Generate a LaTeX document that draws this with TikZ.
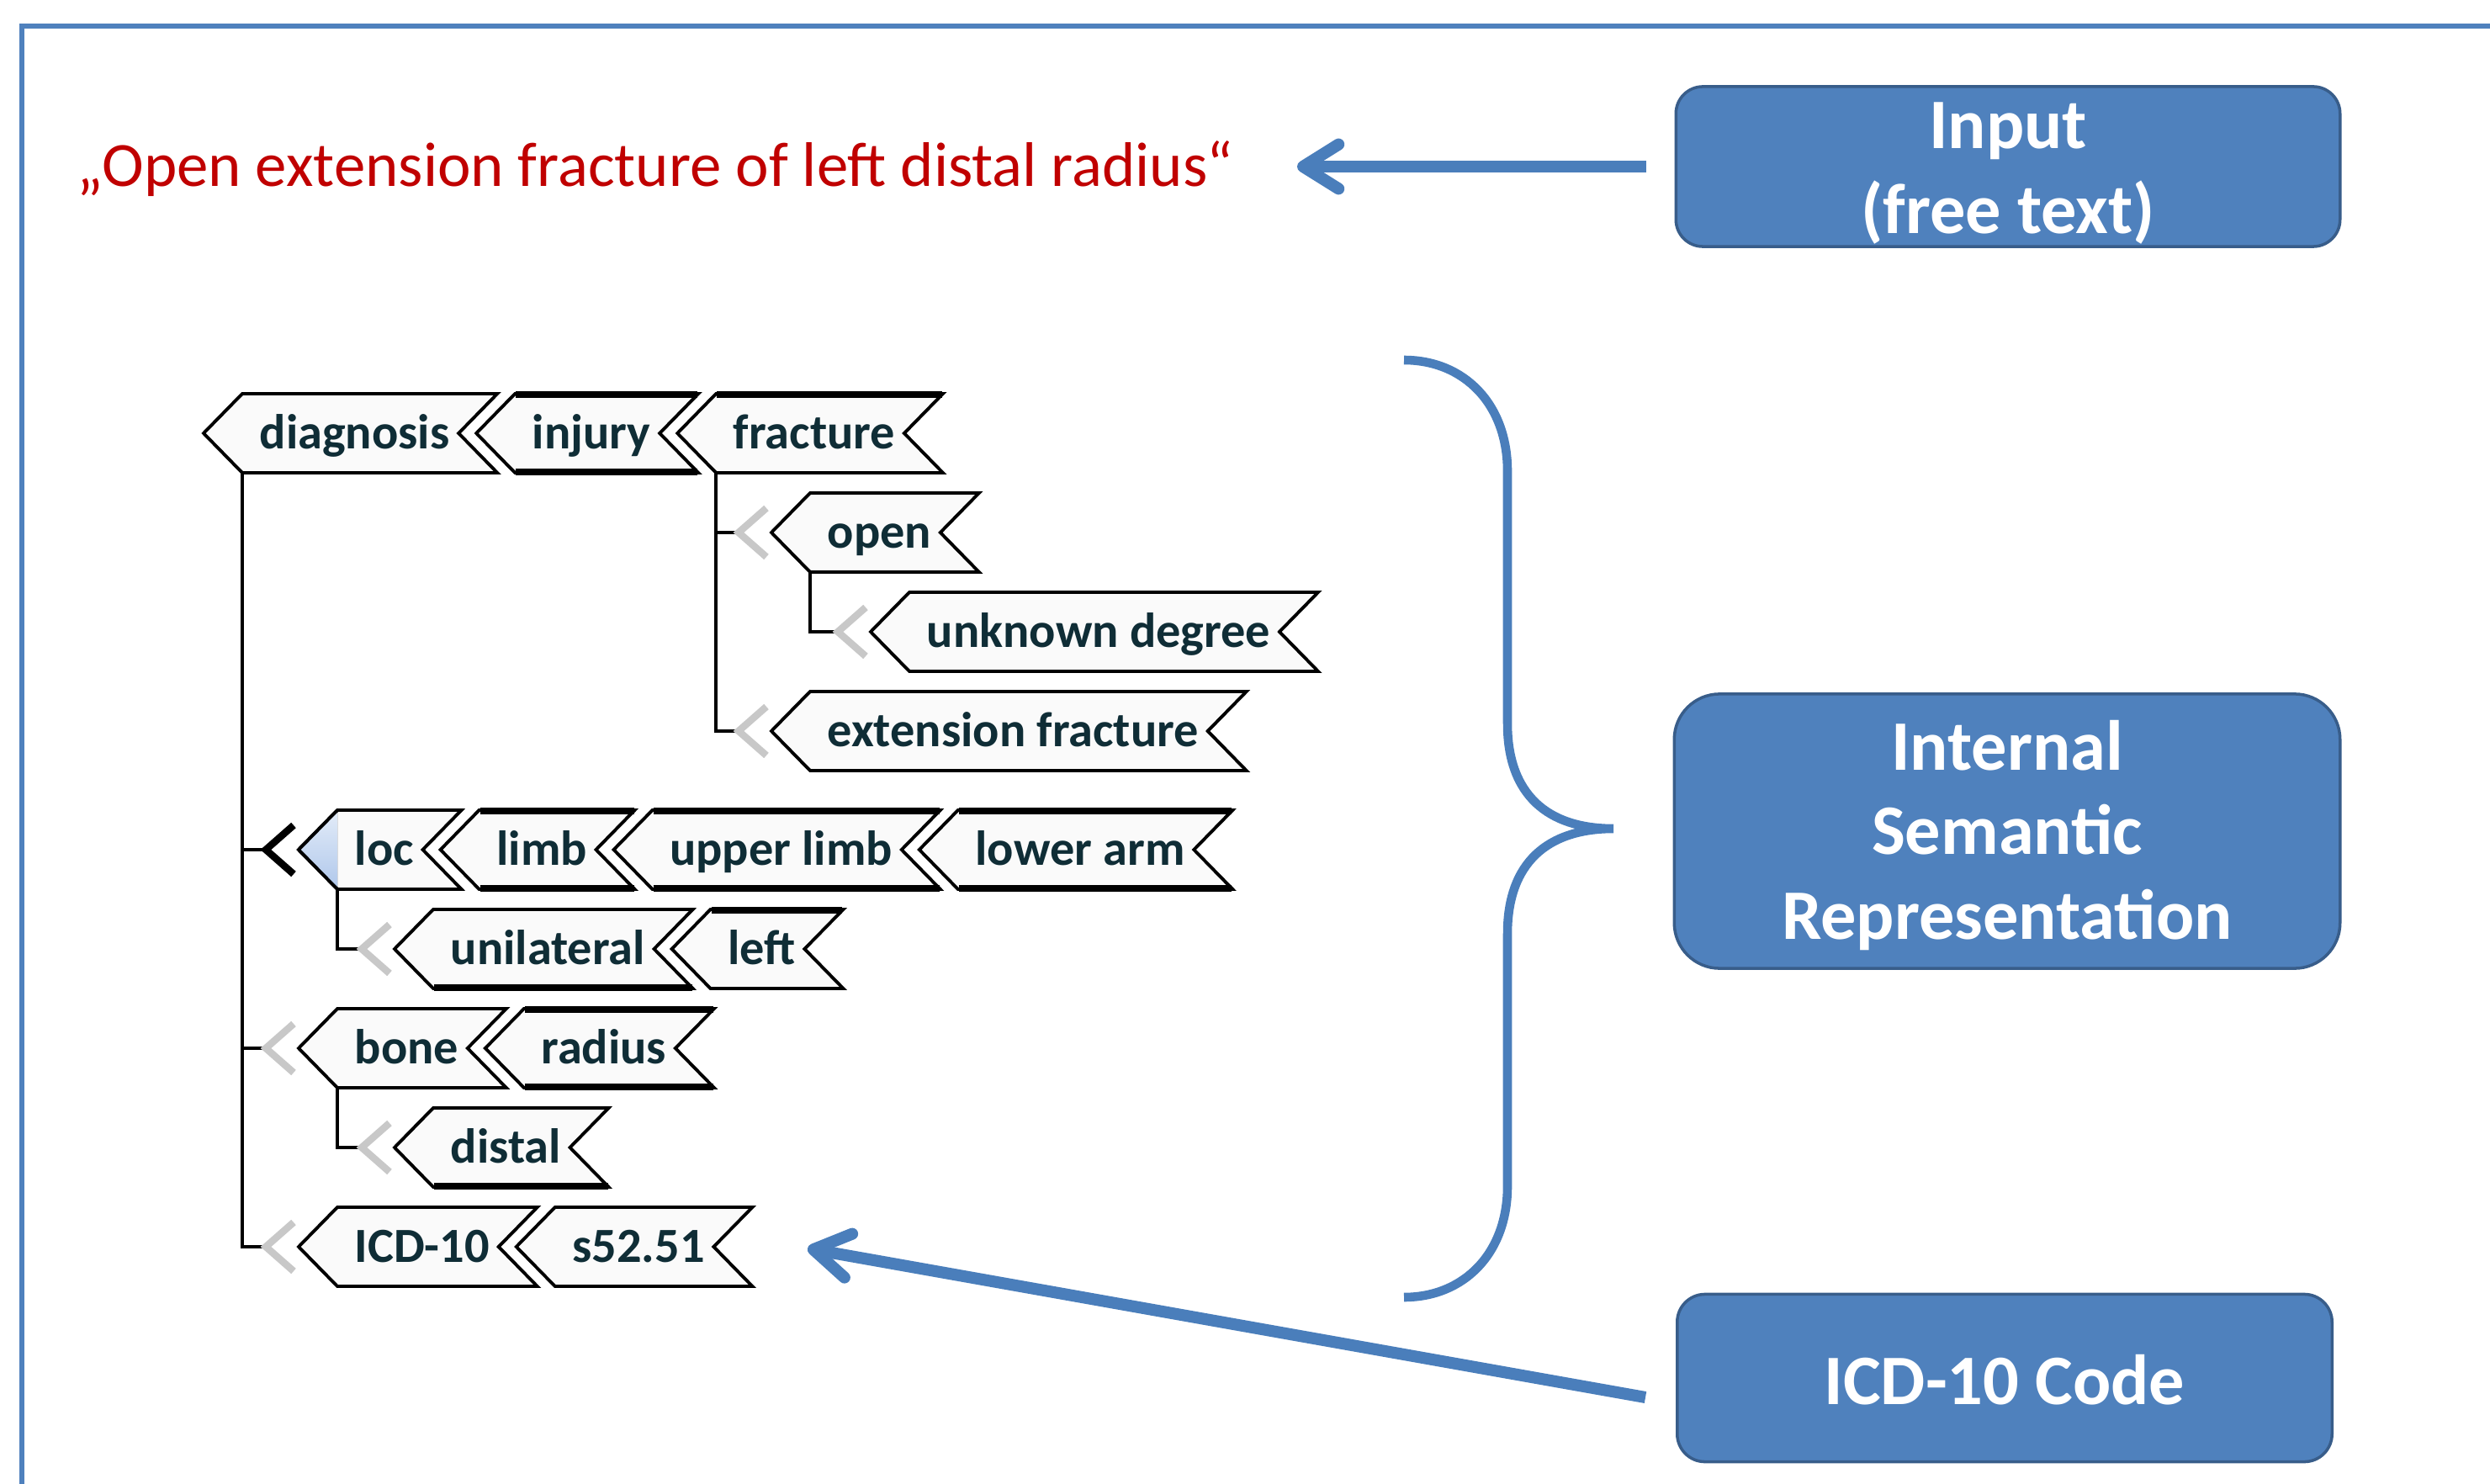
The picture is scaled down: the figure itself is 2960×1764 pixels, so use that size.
\documentclass[tikz,border=0pt]{standalone}
\usepackage{fontspec}
\setmainfont{Carlito}
\usetikzlibrary{positioning,calc,backgrounds,arrows.meta}

\definecolor{boxblue}{HTML}{4F81BD}
\definecolor{boxedge}{HTML}{385D8A}
\definecolor{linkblue}{HTML}{4A7EBB}
\definecolor{quotered}{HTML}{C00000}
\definecolor{tagink}{HTML}{0F2D36}
\definecolor{chevgray}{HTML}{C8C8C8}
\definecolor{loctop}{HTML}{E3ECF8}
\definecolor{locbot}{HTML}{AFC7EB}

\tikzset{
  tagtext/.style={font=\fontsize{16.6pt}{20pt}\selectfont\bfseries, text=tagink,
    inner sep=0pt, text height=10.24pt, text depth=0pt, anchor=west},
  tagline/.style={draw=black, line width=1.1pt, fill=black!2},
  heavyline/.style={line width=2.2pt},
  conn/.style={line width=1.2pt},
  chev/.style={draw=chevgray, line width=2.4pt},
  bluebox/.style={draw=boxedge, line width=1pt, fill=boxblue},
  boxtext/.style={text=white, align=center, inner sep=0pt,
    font=\fontsize{24pt}{28.5pt}\selectfont\bfseries},
  bluearrow/.style={draw=linkblue, line width=4pt, -{Straight Barb[length=12pt,width=15pt,round]}},
  brace/.style={draw=linkblue, line width=3pt},
}

% chevron outline around a tag text node
\newcommand{\tagbox}[1]{%
  \coordinate (#1-p) at ($(#1.west)+(-66,0)$);
  \coordinate (#1-c) at ($(#1.west)+(-20,47)$);
  \filldraw[tagline] (#1-p) -- ($(#1.west)+(-20,-47)$) -- ($(#1.east)+(56,-47)$)
    -- ($(#1.east)+(10,0)$) -- ($(#1.east)+(56,47)$) -- (#1-c) -- cycle;
}
\newcommand{\heavytop}[1]{\draw[heavyline] ($(#1.west)+(-19,-46)$) -- ($(#1.east)+(55,-46)$);}
\newcommand{\heavybot}[1]{\draw[heavyline] ($(#1.west)+(-19,46)$) -- ($(#1.east)+(55,46)$);}
% small chevron in front of a child tag
\newcommand{\chevmark}[2][chev]{%
  \draw[#1] ($(#2-p)+(-6,-29)$) -- ($(#2-p)+(-39,0)$) -- ($(#2-p)+(-6,29)$);
}

\begin{document}
\begin{tikzpicture}[x=0.01cm, y=-0.01cm]
  \useasboundingbox (0,0) rectangle (2960,1764);
  \draw[draw=boxblue, line width=1.6pt] (2975,31) -- (26,31) -- (26,1780);

  % free text input
  \node[anchor=base west, inner sep=0pt, text=quotered,
    font=\fontsize{21.3pt}{25pt}\selectfont] (quote) at (91,222)
    {„Open extension fracture of left distal radius“};

  % tree of tags
  \node[tagtext] (diag) at (308,515) {diagnosis};
  \node[tagtext, right=9.7mm of diag] (injury) {injury};
  \node[tagtext, right=9.7mm of injury] (fracture) {fracture};
  \node[tagtext] (open) at (983,633) {open};
  \node[tagtext] (unknown) at (1101,751) {unknown degree};
  \node[tagtext] (extension) at (983,869) {extension fracture};
  \node[tagtext] (loc) at (421,1010) {loc};
  \node[tagtext, right=9.7mm of loc] (limb) {limb};
  \node[tagtext, right=9.7mm of limb] (upper) {upper limb};
  \node[tagtext, right=9.7mm of upper] (lower) {lower arm};
  \node[tagtext] (unilateral) at (535,1128) {unilateral};
  \node[tagtext, right=9.7mm of unilateral] (left) {left};
  \node[tagtext] (bone) at (421,1246) {bone};
  \node[tagtext, right=9.7mm of bone] (radius) {radius};
  \node[tagtext] (distal) at (535,1364) {distal};
  \node[tagtext] (icd10) at (421,1482) {ICD-10};
  \node[tagtext, right=9.7mm of icd10] (s5251) {s52.51};

  \begin{scope}[on background layer]
    \foreach \t in {diag,injury,fracture,open,unknown,extension,loc,limb,upper,lower,
        unilateral,left,bone,radius,distal,icd10,s5251}
      {\tagbox{\t}}
    \fill[top color=loctop, bottom color=locbot] (loc-p) -- ($(loc.west)+(-20,-47)$) -- (loc-c) -- cycle;
    \draw[line width=1.1pt] ($(loc.west)+(-20,-47)$) -- (loc-p) -- (loc-c);
    \foreach \t in {injury,limb,upper,lower,radius} {\heavytop{\t}\heavybot{\t}}
    \foreach \t in {fracture,left} {\heavytop{\t}}
    \foreach \t in {unilateral,distal} {\heavybot{\t}}
  \end{scope}

  % connectors
  \foreach \p/\c in {diag/loc,diag/bone,diag/icd10,fracture/open,fracture/extension,
      open/unknown,loc/unilateral,bone/distal}
    {\draw[conn] (\p-c) |- ($(\c-p)+(-39,0)$);}
  \foreach \c in {open,unknown,extension,unilateral,bone,distal,icd10}
    {\chevmark{\c}}
  \chevmark[chev, draw=black]{loc}

  % boxes on the right
  \node[bluebox, minimum width=7.89cm, minimum height=1.9cm, rounded corners=0.32cm,
    label={[boxtext, yshift=-0.08cm]center:{Input\\(free text)}}] (input) at (2387,198) {};
  \node[bluebox, minimum width=7.91cm, minimum height=3.26cm, rounded corners=0.54cm,
    label={[boxtext, yshift=-0.05cm]center:{Internal\\Semantic\\Representation}}] (isr) at (2386,988) {};
  \node[bluebox, minimum width=7.78cm, minimum height=1.99cm, rounded corners=0.33cm,
    label={[boxtext, yshift=-0.02cm]center:{ICD-10 Code}}] (icd) at (2383,1638) {};

  % arrows and brace
  \coordinate (quote-end) at (1542,198);
  \coordinate (code-end) at (960,1484);
  \draw[bluearrow] ([xshift=-0.34cm]input.west) -- (quote-end);
  \draw[bluearrow] ([xshift=-0.36cm,yshift=-0.23cm]icd.west) -- (code-end);
  \draw[brace] (1669,428) .. controls (1740,428) and (1792,480) .. (1792,560)
    -- (1792,860) .. controls (1792,945) and (1840,985) .. (1918,985)
    .. controls (1840,985) and (1792,1025) .. (1792,1110)
    -- (1792,1410) .. controls (1792,1490) and (1740,1542) .. (1669,1542);
\end{tikzpicture}
\end{document}
